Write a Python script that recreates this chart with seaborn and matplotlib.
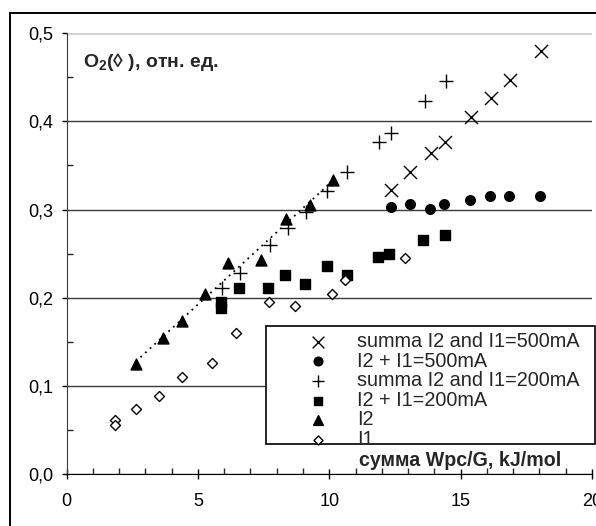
import matplotlib

matplotlib.use("Agg")
import matplotlib.pyplot as plt
import matplotlib.patches as mpatches
from matplotlib.ticker import FuncFormatter, MultipleLocator
import seaborn as sns

W, H = 596, 526

# I1 (open diamonds)
i1_x = [1.86, 1.86, 2.65, 3.52, 4.41, 5.53, 6.46, 7.70, 8.69, 10.09, 10.60, 12.88]
i1_y = [0.061, 0.056, 0.074, 0.089, 0.110, 0.126, 0.160, 0.195, 0.191, 0.204, 0.220, 0.245]

# I2 (triangles)
i2_x = [2.64, 3.67, 4.41, 5.27, 6.16, 7.39, 8.35, 9.25, 10.16]
i2_y = [0.125, 0.154, 0.174, 0.204, 0.239, 0.243, 0.289, 0.305, 0.334]

# I2 + I1=200mA (squares)
sq_x = [5.88, 5.88, 6.55, 7.68, 8.31, 9.08, 9.90, 10.67, 11.87, 12.28, 13.57, 14.39]
sq_y = [0.195, 0.188, 0.211, 0.211, 0.226, 0.216, 0.236, 0.226, 0.246, 0.250, 0.266, 0.271]

# summa I2 and I1=200mA (plus)
p_x = [5.90, 6.59, 7.75, 8.42, 9.12, 9.90, 10.69, 11.89, 12.34, 13.63, 14.44]
p_y = [0.211, 0.228, 0.260, 0.279, 0.297, 0.321, 0.342, 0.376, 0.387, 0.423, 0.446]

# I2 + I1=500mA (circles)
c_x = [12.34, 13.07, 13.83, 14.36, 15.34, 16.12, 16.84, 18.03]
c_y = [0.303, 0.306, 0.301, 0.306, 0.311, 0.315, 0.315, 0.315]

# summa I2 and I1=500mA (crosses)
x_x = [12.36, 13.09, 13.88, 14.39, 15.39, 16.15, 16.88, 18.06]
x_y = [0.322, 0.343, 0.364, 0.377, 0.405, 0.426, 0.447, 0.480]

x_ticks = [0, 5, 10, 15, 20]
y_ticks = [0.0, 0.1, 0.2, 0.3, 0.4, 0.5]

sns.set_style("ticks")
plt.rcParams["font.family"] = ["Liberation Sans", "DejaVu Sans"]
plt.rcParams["mathtext.fontset"] = "custom"
plt.rcParams["mathtext.rm"] = "Liberation Sans"
plt.rcParams["mathtext.bf"] = "Liberation Sans:bold"

fig = plt.figure(figsize=(W / 100, H / 100), dpi=100)
ax = fig.add_axes([66.5 / W, 1 - 474.3 / H, (592 - 66.5) / W, (474.3 - 33) / H])

# dotted trend through I2
sns.regplot(x=i2_x, y=i2_y, ci=None, scatter=False, ax=ax,
            line_kws=dict(color="black", ls=(0, (1, 2.5)), lw=1.3))

series = [
    (x_x, x_y, "x", 88, "summa I2 and I1=500mA"),
    (c_x, c_y, "o", 48, "I2 + I1=500mA"),
    (p_x, p_y, "+", 95, "summa I2 and I1=200mA"),
    (sq_x, sq_y, "s", 46, "I2 + I1=200mA"),
    (i2_x, i2_y, "^", 62, "I2"),
]
for xs, ys, m, s, lab in series:
    sns.scatterplot(x=xs, y=ys, marker=m, s=s, color="black", edgecolor="black",
                    linewidth=1.0, ax=ax, label=lab, zorder=3)
sns.scatterplot(x=i1_x, y=i1_y, marker="D", s=26, facecolor="white",
                edgecolor="black", linewidth=1.0, ax=ax, label="I1", zorder=3)

h, l = ax.get_legend_handles_labels()
ax.get_legend().remove()

ax.set_xlim(0, 20)
ax.set_ylim(0, 0.5)
ax.set_xticks(x_ticks)
ax.set_yticks(y_ticks)
ax.xaxis.set_minor_locator(MultipleLocator(1))
ax.yaxis.set_minor_locator(MultipleLocator(0.05))
ax.yaxis.set_major_formatter(FuncFormatter(lambda v, p: f"{v:.1f}".replace(".", ",")))
ax.tick_params(axis="both", labelsize=13, colors="black")
ax.tick_params(axis="y", which="major", direction="out", length=3.6, width=1, pad=5.8)
ax.tick_params(axis="y", which="minor", direction="in", length=4, width=1)
ax.tick_params(axis="x", which="major", direction="inout", length=6.7, width=1, pad=10)
ax.tick_params(axis="x", which="minor", direction="in", length=4, width=1)

ax.yaxis.grid(True, color="#3a3a3a", lw=1)
ax.yaxis.get_gridlines()[-1].set_color("#d0d0d0")
ax.yaxis.get_gridlines()[-1].set_linewidth(2)
ax.set_axisbelow(True)
sns.despine(ax=ax, top=True, right=True)
ax.spines["left"].set_color("#3a3a3a")
ax.spines["bottom"].set_color("black")
ax.set_xlabel("")
ax.set_ylabel("")

# legend frame drawn separately
fig.patches.append(mpatches.Rectangle((266 / W, 1 - 444 / H), (595 - 266) / W, 118 / H,
                                      transform=fig.transFigure, facecolor="white",
                                      edgecolor="black", lw=1.2, zorder=4))
leg = fig.legend(h, l, loc="upper left", bbox_to_anchor=(298 / W, 1 - 332 / H),
                 bbox_transform=fig.transFigure, frameon=False, fontsize=14.3,
                 handlelength=2.0, handletextpad=0.96, labelspacing=0.03,
                 borderpad=0, borderaxespad=0, markerscale=0.9)
leg.set_zorder(6)

fig.text(359 / W, 1 - 460 / H, "сумма Wpc/G, kJ/mol", fontsize=14.1, fontweight="bold",
         va="center", ha="left")
fig.text(83 / W, 1 - 62 / H, r"$\mathbf{O_2}$(◊ ), отн. ед.", fontsize=14,
         fontweight="bold", va="center", ha="left")

# outer chart-area frame
fig.patches.append(mpatches.Rectangle((10 / W, -0.1), 1.2, 1.1 - 12.7 / H,
                                      transform=fig.transFigure, fill=False,
                                      edgecolor="black", lw=1.4))

fig.savefig("out.png", dpi=100)
